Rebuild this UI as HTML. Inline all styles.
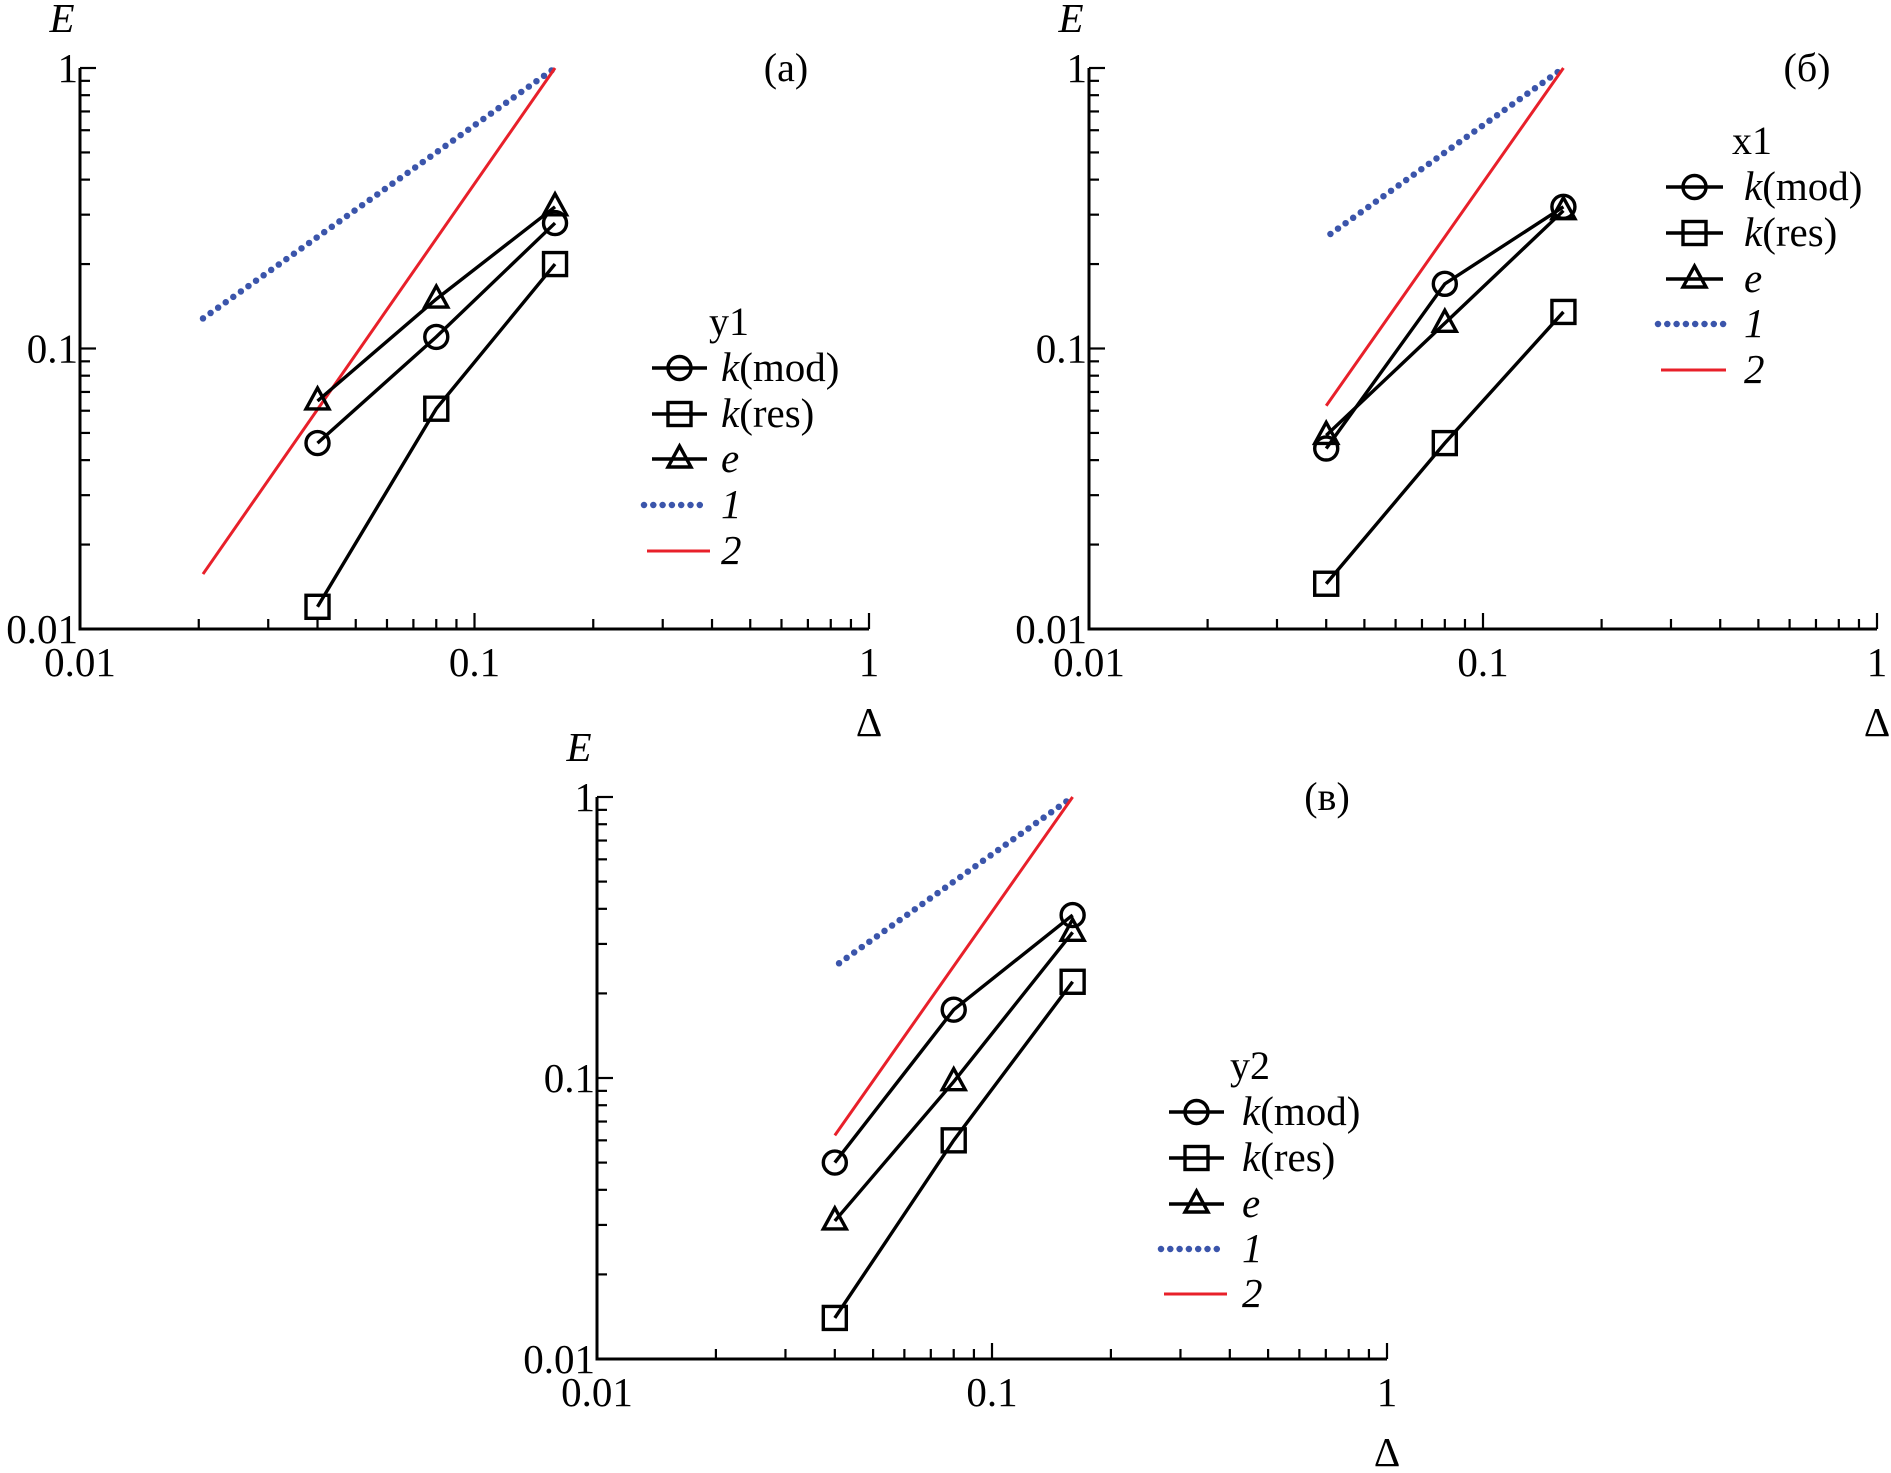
<!DOCTYPE html>
<html><head><meta charset="utf-8"><style>
html,body{margin:0;padding:0;background:#fff;}
svg{display:block;font-family:"Liberation Serif",serif;}
</style></head><body>
<svg id="chart" width="1891" height="1473" viewBox="0 0 1891 1473" xmlns="http://www.w3.org/2000/svg"></svg>
<script>
// x values (Delta) for series
const deltas = [0.04, 0.08, 0.16];
// panel (a) y1
const a_kmod = [0.046, 0.11, 0.28];
const a_kres = [0.012, 0.061, 0.2];
const a_e = [0.065, 0.15, 0.32];
// panel (б) x1
const b_kmod = [0.044, 0.17, 0.32];
const b_kres = [0.0145, 0.046, 0.135];
const b_e = [0.049, 0.123, 0.31];
// panel (в) y2
const c_kmod = [0.05, 0.175, 0.38];
const c_kres = [0.014, 0.06, 0.22];
const c_e = [0.031, 0.097, 0.33];
// reference lines: [x start, x end] and [y start, y end]
const a_ref1x = [0.0205, 0.16], a_ref1y = [0.128, 1];
const a_ref2x = [0.0205, 0.16], a_ref2y = [0.0157, 1];
const b_ref1x = [0.041, 0.16], b_ref1y = [0.256, 1];
const b_ref2x = [0.04, 0.16], b_ref2y = [0.0625, 1];
const c_ref1x = [0.041, 0.16], c_ref1y = [0.256, 1];
const c_ref2x = [0.04, 0.16], c_ref2y = [0.0625, 1];
const xTickLabels = ["0.01", "0.1", "1"];
const yTickLabels = ["0.01", "0.1", "1"];
const legendLabels = ["mod", "res"];

const NS = "http://www.w3.org/2000/svg";
const svg = document.getElementById('chart');
function mk(tag, attrs, parent) {
  const e = document.createElementNS(NS, tag);
  for (const k in attrs) e.setAttribute(k, attrs[k]);
  (parent || svg).appendChild(e);
  return e;
}

function panel(cfg) {
  const g = mk('g', {});
  
  
  const X = v => cfg.x0 + (Math.log10(v) + 2) / 2 * (cfg.x1 - cfg.x0);
  const Y = v => cfg.y0 - (Math.log10(v) + 2) / 2 * (cfg.y0 - cfg.y1);
  const ax = mk('path', {d: `M${cfg.x0},${cfg.y1} L${cfg.x0},${cfg.y0} L${cfg.x1},${cfg.y0}`, fill: 'none', stroke: '#000', 'stroke-width': 3}, g);
  
  
  for (let d = -2; d < 0; d++) {
    for (let m = 1; m <= 9; m++) {
      const v = m * Math.pow(10, d);
      const len = m === 1 ? 16 : 10;
      if (!(d === -2 && m === 1)) {
        const tx = mk('line', {x1: X(v), x2: X(v), y1: cfg.y0, y2: cfg.y0 - len, stroke: '#000', 'stroke-width': 2.2}, g);
        
        
        const ty = mk('line', {x1: cfg.x0, x2: cfg.x0 + len, y1: Y(v), y2: Y(v), stroke: '#000', 'stroke-width': 2.2}, g);
        
        
      }
    }
  }
  mk('line', {x1: X(1), x2: X(1), y1: cfg.y0, y2: cfg.y0 - 16, stroke: '#000', 'stroke-width': 2.2}, g);
  mk('line', {x1: cfg.x0, x2: cfg.x0 + 16, y1: Y(1), y2: Y(1), stroke: '#000', 'stroke-width': 2.2}, g);
  const tv = [0.01, 0.1, 1];
  tv.forEach((v, i) => {
    const t = mk('text', {x: X(v), y: cfg.y0 + 47, 'font-size': 41, 'text-anchor': 'middle'}, g);
    t.textContent = xTickLabels[i];
    
    
    const u = mk('text', {x: cfg.x0 - 2, y: Y(v) + 14, 'font-size': 41, 'text-anchor': 'end'}, g);
    u.textContent = yTickLabels[i];
    
    
  });
  const xt = mk('text', {x: cfg.x1, y: cfg.y0 + 107, 'font-size': 41, 'text-anchor': 'middle'}, g);
  xt.textContent = 'Δ';
  
  
  const yt = mk('text', {x: cfg.x0 - 18, y: cfg.y1 - 36, 'font-size': 41, 'font-style': 'italic', 'text-anchor': 'middle'}, g);
  yt.textContent = 'E';
  
  
  const pl = mk('text', {x: cfg.labelX, y: cfg.y1 + 13, 'font-size': 40, 'text-anchor': 'middle'}, g);
  pl.textContent = cfg.label;
  
  

  const r1 = mk('line', {x1: X(cfg.r1x[0]), y1: Y(cfg.r1y[0]), x2: X(cfg.r1x[1]), y2: Y(cfg.r1y[1]), stroke: '#3b55ab', 'stroke-width': 6.5, 'stroke-linecap': 'round', 'stroke-dasharray': '0 9.3'}, g);
  
  
  const r2 = mk('line', {x1: X(cfg.r2x[0]), y1: Y(cfg.r2y[0]), x2: X(cfg.r2x[1]), y2: Y(cfg.r2y[1]), stroke: '#e8202a', 'stroke-width': 3}, g);
  
  

  function marker(type, cx, cy, parent) {
    let m;
    if (type === 'circle') m = mk('circle', {cx, cy, r: 11.5, fill: 'none', stroke: '#000', 'stroke-width': 3.4}, parent);
    else if (type === 'square') m = mk('rect', {x: cx - 11.5, y: cy - 11.5, width: 23, height: 23, fill: 'none', stroke: '#000', 'stroke-width': 3.4}, parent);
    else m = mk('path', {d: `M${cx},${cy - 13} L${cx + 11.5},${cy + 8} L${cx - 11.5},${cy + 8} Z`, fill: 'none', stroke: '#000', 'stroke-width': 3.4}, parent);
    return m;
  }
  const series = [[cfg.kmod, 'circle', 'kmod'], [cfg.kres, 'square', 'kres'], [cfg.e, 'triangle', 'e']];
  series.forEach(([vals, type, nm]) => {
    const sg = mk('g', {}, g);
    
    
    const pts = vals.map((v, i) => X(deltas[i]) + ',' + Y(v)).join(' ');
    const pl2 = mk('polyline', {points: pts, fill: 'none', stroke: '#000', 'stroke-width': 3.4}, sg);
    
    
    vals.forEach((v, i) => {
      const m = marker(type, X(deltas[i]), Y(v), sg);
      
      
    });
  });

  const L = cfg.leg;
  const lg = mk('g', {}, g);
  
  
  const lt = mk('text', {x: L.tx - 12, y: L.rows[0] - 33, 'font-size': 40}, lg);
  lt.textContent = cfg.title;
  
  
  const types = ['circle', 'square', 'triangle'];
  for (let i = 0; i < 3; i++) {
    const y = L.rows[i];
    const e = mk('g', {}, lg);
    
    
    mk('line', {x1: L.l0, x2: L.l1, y1: y, y2: y, stroke: '#000', 'stroke-width': 3.4}, e);
    marker(types[i], (L.l0 + L.l1) / 2, y, e);
    const t = mk('text', {x: L.tx, y: y + 13, 'font-size': 41}, e);
    if (i < 2) {
      const s1 = mk('tspan', {'font-style': 'italic'}, t); s1.textContent = 'k';
      const s2 = mk('tspan', {}, t); s2.textContent = '(' + legendLabels[i] + ')';
    } else {
      t.setAttribute('font-style', 'italic'); t.textContent = 'e';
    }
  }
  const e4 = mk('g', {}, lg);
  
  
  mk('line', {x1: L.l0 - 8, x2: L.l1 + 2, y1: L.rows[3], y2: L.rows[3], stroke: '#3b55ab', 'stroke-width': 6.5, 'stroke-linecap': 'round', 'stroke-dasharray': '0 9.3'}, e4);
  const t4 = mk('text', {x: L.tx, y: L.rows[3] + 13, 'font-size': 41, 'font-style': 'italic'}, e4); t4.textContent = '1';
  const e5 = mk('g', {}, lg);
  
  
  mk('line', {x1: L.l0 - 5, x2: L.l1 + 3, y1: L.rows[4], y2: L.rows[4], stroke: '#e8202a', 'stroke-width': 3}, e5);
  const t5 = mk('text', {x: L.tx, y: L.rows[4] + 13, 'font-size': 41, 'font-style': 'italic'}, e5); t5.textContent = '2';
}

panel({id: 'a', x0: 80, x1: 869, y0: 629, y1: 68, label: '(a)', labelX: 786, title: 'y1',
  kmod: a_kmod, kres: a_kres, e: a_e, r1x: a_ref1x, r1y: a_ref1y, r2x: a_ref2x, r2y: a_ref2y,
  leg: {l0: 652, l1: 707, tx: 721, rows: [368, 414, 459, 505, 551]}});
panel({id: 'b', x0: 1089, x1: 1877, y0: 629, y1: 68, label: '(б)', labelX: 1807, title: 'x1',
  kmod: b_kmod, kres: b_kres, e: b_e, r1x: b_ref1x, r1y: b_ref1y, r2x: b_ref2x, r2y: b_ref2y,
  leg: {l0: 1666, l1: 1723, tx: 1744, rows: [187, 233, 279, 324, 370]}});
panel({id: 'c', x0: 597, x1: 1387, y0: 1359, y1: 797, label: '(в)', labelX: 1327, title: 'y2',
  kmod: c_kmod, kres: c_kres, e: c_e, r1x: c_ref1x, r1y: c_ref1y, r2x: c_ref2x, r2y: c_ref2y,
  leg: {l0: 1169, l1: 1224, tx: 1242, rows: [1112, 1158, 1204, 1249, 1294]}});
</script>
</body></html>
